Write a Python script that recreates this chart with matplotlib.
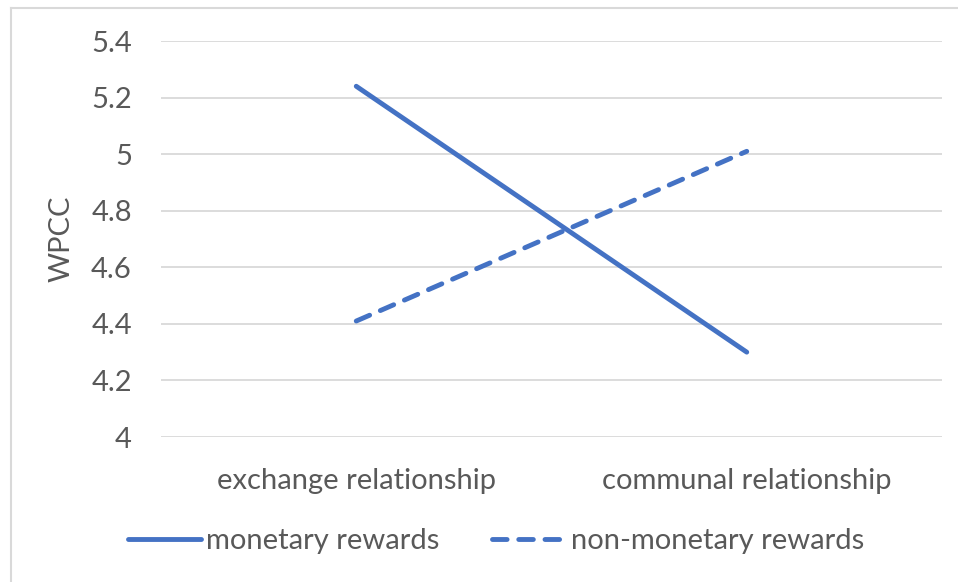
import matplotlib.pyplot as plt
from matplotlib.lines import Line2D

categories = ["exchange relationship", "communal relationship"]
monetary = [5.24, 4.30]
non_monetary = [4.41, 5.01]
yticks = [4, 4.2, 4.4, 4.6, 4.8, 5, 5.2, 5.4]
yticklabels = ["4", "4.2", "4.4", "4.6", "4.8", "5", "5.2", "5.4"]

blue = "#4472C4"
grey = "#595959"
fs = 21
plt.rcParams['font.family'] = ['Lato', 'DejaVu Sans']

fig = plt.figure(figsize=(9.58, 5.82), dpi=100)
ax = fig.add_axes([161/958, 1-437/582, (942-161)/958, (437-41)/582])

x = list(range(len(categories)))
ax.plot(x, monetary, color=blue, lw=3.5, solid_capstyle='round', label="monetary rewards")
ax.plot(x, non_monetary, color=blue, lw=3.5, ls=(0, (3, 2.4)), dash_capstyle='round', label="non-monetary rewards")

ax.set_xlim(-0.5, 1.5)
ax.set_ylim(4, 5.4)
ax.set_yticks(yticks)
ax.set_yticklabels(yticklabels)
ax.set_xticks(x)
ax.set_xticklabels(categories)
ax.grid(axis='y', color='#d9d9d9', lw=1.3)
ax.set_axisbelow(True)
for s in ax.spines.values():
    s.set_visible(False)
ax.tick_params(length=0, labelsize=fs, colors=grey)
ax.tick_params(axis='y', pad=21)
ax.tick_params(axis='x', pad=22)
ax.set_ylabel("WPCC", fontsize=fs, color=grey, labelpad=12)

fig.legend(loc='center', bbox_to_anchor=(496/958, 1-541/582), ncol=2, frameon=False,
           fontsize=fs, labelcolor=grey, handlelength=2.5, handletextpad=0.2, columnspacing=1.8)

# chart border
fig.add_artist(Line2D([11/958, 11/958], [0, 1-8/582], color='#d9d9d9', lw=1.5))
fig.add_artist(Line2D([11/958, 1], [1-8/582, 1-8/582], color='#d9d9d9', lw=1.5))

fig.savefig("out.png", dpi=100)
